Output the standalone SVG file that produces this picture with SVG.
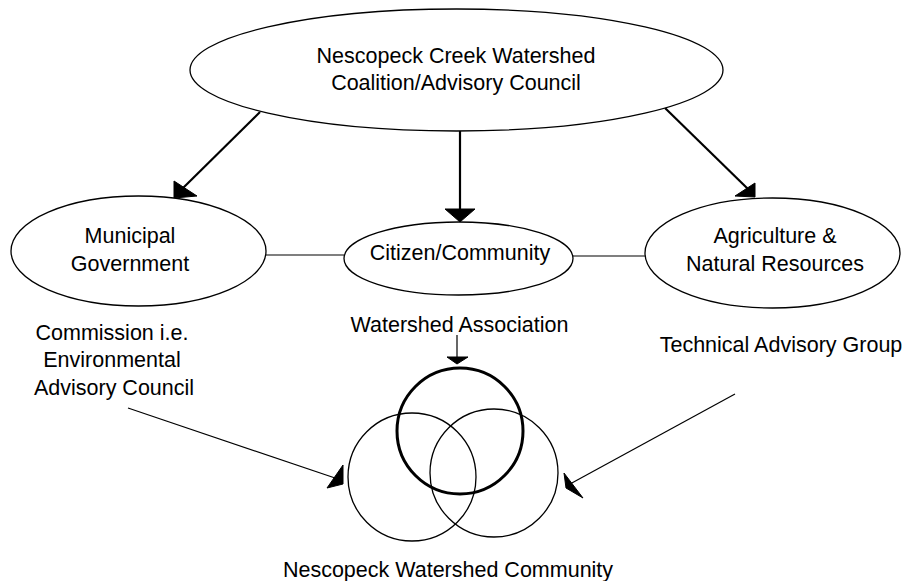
<svg xmlns="http://www.w3.org/2000/svg" width="907" height="581" viewBox="0 0 907 581">
<style>
  .node { fill: #ffffff; stroke: #000000; stroke-width: 1.3; }
  .lbl { font-family: "Liberation Sans", Arial, sans-serif; font-size: 21.5px; fill: #000000; text-anchor: middle; }
  .conn { stroke: #000000; fill: none; }
  .thick { stroke-width: 2.2; }
  .thin { stroke-width: 1.2; }
  .head { fill: #000000; stroke: #000000; stroke-width: 1; stroke-linejoin: miter; }
  .ring { fill: none; stroke: #000000; stroke-width: 1.3; }
  .ring-bold { fill: none; stroke: #000000; stroke-width: 3; }
</style>
<rect width="907" height="581" fill="#ffffff"/>

<g id="connectors">
  <line class="conn thick" x1="260" y1="112" x2="181" y2="190"/>
  <polygon class="head" points="174,181 174,198 197,196"/>
  <line class="conn thick" x1="460" y1="131" x2="460" y2="210"/>
  <polygon class="head" points="445,209 475,209 460,222"/>
  <line class="conn thick" x1="665" y1="108" x2="748" y2="189"/>
  <polygon class="head" points="735,196 755,183 755,197"/>
  <line class="conn thin" x1="266" y1="255" x2="344" y2="255"/>
  <line class="conn thin" x1="573" y1="256" x2="645" y2="256"/>
  <line class="conn thin" x1="457" y1="335" x2="457" y2="358"/>
  <polygon class="head" points="447,357 468,357 457,364"/>
  <line class="conn thin" x1="128" y1="408" x2="338" y2="479"/>
  <polygon class="head" points="343,465 343,484 327,488"/>
  <line class="conn thin" x1="735" y1="394" x2="570" y2="484"/>
  <polygon class="head" points="564,473 566,488 583,498"/>
</g>

<g id="coalition">
  <ellipse class="node" cx="456.5" cy="70" rx="266.5" ry="61"/>
  <text class="lbl" x="456" y="63">Nescopeck Creek Watershed</text>
  <text class="lbl" x="456" y="90">Coalition/Advisory Council</text>
</g>

<g id="municipal">
  <ellipse class="node" cx="138.5" cy="251" rx="127.5" ry="55"/>
  <text class="lbl" x="130" y="243">Municipal</text>
  <text class="lbl" x="130" y="271">Government</text>
</g>

<g id="citizen">
  <ellipse class="node" cx="458.5" cy="258.5" rx="114.5" ry="36.5"/>
  <text class="lbl" x="460" y="260">Citizen/Community</text>
</g>

<g id="agriculture">
  <ellipse class="node" cx="772.5" cy="253" rx="127.5" ry="55"/>
  <text class="lbl" x="775" y="243">Agriculture &amp;</text>
  <text class="lbl" x="775" y="271">Natural Resources</text>
</g>

<g id="commission">
  <text class="lbl" x="112" y="340">Commission i.e.</text>
  <text class="lbl" x="112" y="367">Environmental</text>
  <text class="lbl" x="114" y="395">Advisory Council</text>
</g>

<g id="watershed-association">
  <text class="lbl" x="459.5" y="332">Watershed Association</text>
</g>

<g id="technical">
  <text class="lbl" x="781" y="352">Technical Advisory Group</text>
</g>

<g id="community">
  <circle class="ring" cx="412" cy="477" r="64"/>
  <circle class="ring" cx="494" cy="473" r="64"/>
  <circle class="ring-bold" cx="460" cy="431" r="63"/>
  <text class="lbl" x="448" y="577">Nescopeck Watershed Community</text>
</g>
</svg>
